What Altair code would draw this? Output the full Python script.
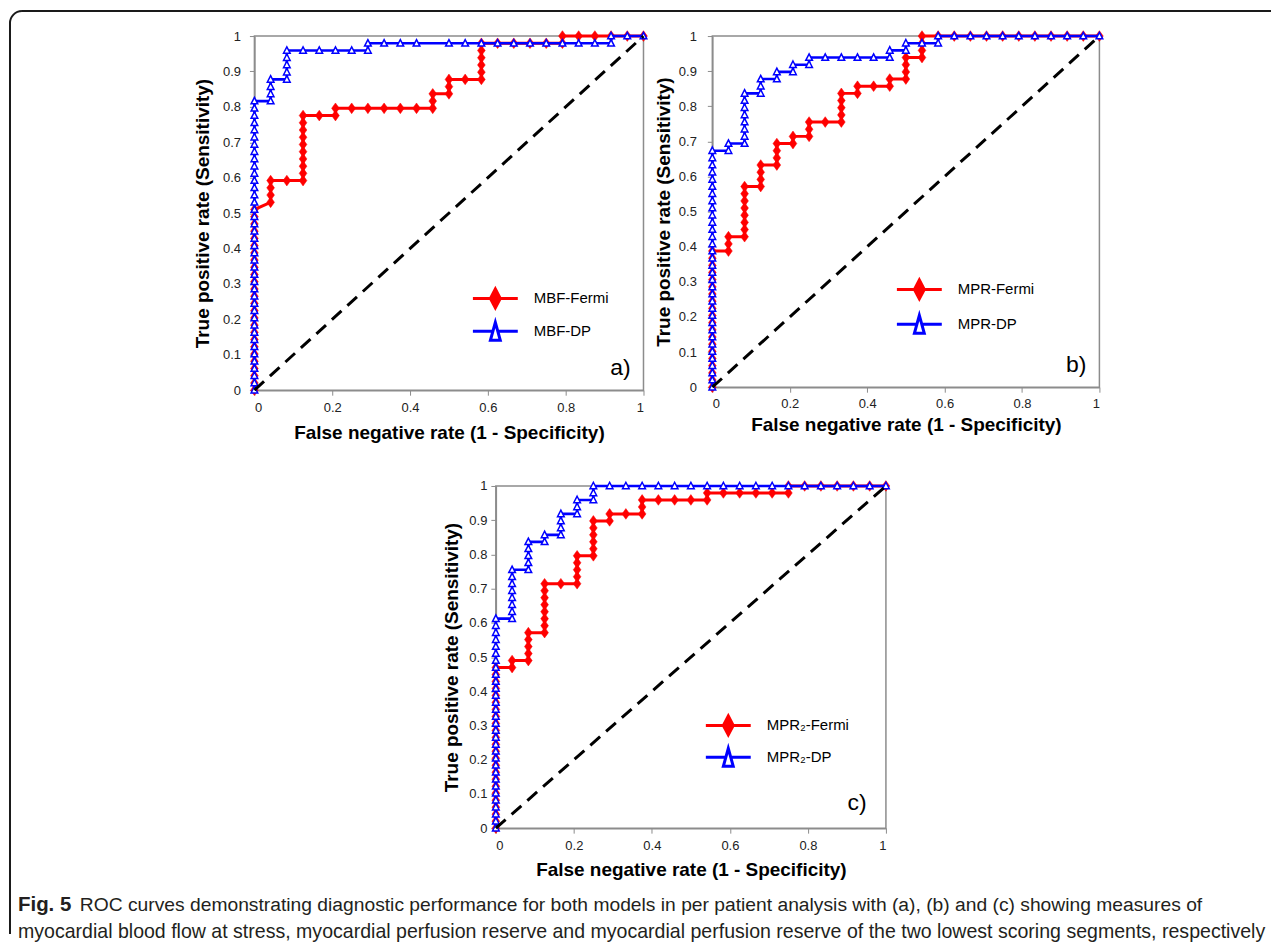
import altair as alt
import pandas as pd

# ---------------- data (counts) ----------------
N_NEG = 24   # x advances in steps of 1/24
N_POS = 49   # y advances in steps of 1/49

# Panel a
A_FERMI_FP = [0, 0, 0, 0, 0, 0, 0, 0, 0, 0, 0, 0, 0, 0, 0, 0, 0, 0, 0, 0, 0, 0, 0, 0, 0, 0,
              1, 1, 1, 1, 2, 3, 3, 3, 3, 3, 3, 3, 3, 3, 3, 4, 5, 5,
              6, 7, 8, 9, 10, 11, 11, 11, 12, 12, 12, 13, 14,
              14, 14, 14, 14, 14, 15, 16, 17, 18, 19, 19, 20, 21, 22, 23, 24]
A_FERMI_TP = [0, 1, 2, 3, 4, 5, 6, 7, 8, 9, 10, 11, 12, 13, 14, 15, 16, 17, 18, 19, 20, 21, 22, 23, 24, 25,
              26, 27, 28, 29, 29, 29, 30, 31, 32, 33, 34, 35, 36, 37, 38, 38, 38, 39,
              39, 39, 39, 39, 39, 39, 40, 41, 41, 42, 43, 43, 43,
              44, 45, 46, 47, 48, 48, 48, 48, 48, 48, 49, 49, 49, 49, 49, 49]
A_DP_FP = [0, 0, 0, 0, 0, 0, 0, 0, 0, 0, 0, 0, 0, 0, 0, 0, 0, 0, 0, 0,
           0, 0, 0, 0, 0, 0, 0, 0, 0, 0, 0, 0, 0, 0, 0, 0, 0, 0, 0, 0, 0,
           1, 1, 1, 1, 2, 2, 2, 2, 2, 3, 4, 5, 6, 7, 7,
           8, 9, 10, 12, 13, 14, 15, 16, 17, 18, 19, 20, 21, 22, 22, 23, 24]
A_DP_TP = [0, 1, 2, 3, 4, 5, 6, 7, 8, 9, 10, 11, 12, 13, 14, 15, 16, 17, 18, 19,
           20, 21, 22, 23, 24, 25, 26, 27, 28, 29, 30, 31, 32, 33, 34, 35, 36, 37, 38, 39, 40,
           40, 41, 42, 43, 43, 44, 45, 46, 47, 47, 47, 47, 47, 47, 48,
           48, 48, 48, 48, 48, 48, 48, 48, 48, 48, 48, 48, 48, 48, 49, 49, 49]

# Panel b
B_FERMI_FP = [0, 0, 0, 0, 0, 0, 0, 0, 0, 0, 0, 0, 0, 0, 0, 0, 0, 0, 0, 0,
              1, 1, 1, 2, 2, 2, 2, 2, 2, 2, 2, 3, 3, 3, 3, 4, 4, 4, 4, 5, 5,
              6, 6, 6, 7, 8, 8, 8, 8, 8, 9, 9, 10, 11, 11,
              12, 12, 12, 12, 13, 13, 13, 13,
              14, 15, 16, 17, 18, 19, 20, 21, 22, 23, 24]
B_FERMI_TP = [0, 1, 2, 3, 4, 5, 6, 7, 8, 9, 10, 11, 12, 13, 14, 15, 16, 17, 18, 19,
              19, 20, 21, 21, 22, 23, 24, 25, 26, 27, 28, 28, 29, 30, 31, 31, 32, 33, 34, 34, 35,
              35, 36, 37, 37, 37, 38, 39, 40, 41, 41, 42, 42, 42, 43,
              43, 44, 45, 46, 46, 47, 48, 49,
              49, 49, 49, 49, 49, 49, 49, 49, 49, 49, 49]
B_DP_FP = [0, 0, 0, 0, 0, 0, 0, 0, 0, 0, 0, 0, 0, 0, 0, 0, 0,
           0, 0, 0, 0, 0, 0, 0, 0, 0, 0, 0, 0, 0, 0, 0, 0, 0,
           1, 1, 2, 2, 2, 2, 2, 2, 2, 2, 3, 3, 3, 4, 4, 5, 5, 6, 6,
           7, 8, 9, 10, 11, 11, 12, 12, 13, 14, 14,
           15, 16, 17, 18, 19, 20, 21, 22, 23, 24]
B_DP_TP = [0, 1, 2, 3, 4, 5, 6, 7, 8, 9, 10, 11, 12, 13, 14, 15, 16,
           17, 18, 19, 20, 21, 22, 23, 24, 25, 26, 27, 28, 29, 30, 31, 32, 33,
           33, 34, 34, 35, 36, 37, 38, 39, 40, 41, 41, 42, 43, 43, 44, 44, 45, 45, 46,
           46, 46, 46, 46, 46, 47, 47, 48, 48, 48, 49,
           49, 49, 49, 49, 49, 49, 49, 49, 49, 49]

# Panel c
C_FERMI_FP = [0, 0, 0, 0, 0, 0, 0, 0, 0, 0, 0, 0, 0, 0, 0, 0, 0, 0, 0, 0, 0, 0, 0, 0,
              1, 1, 2, 2, 2, 2, 2, 3, 3, 3, 3, 3, 3, 3, 3, 4,
              5, 5, 5, 5, 5, 6, 6, 6, 6, 6, 6, 7, 7, 8, 9, 9, 9,
              10, 11, 12, 13, 13, 14, 15, 16, 17, 18, 18,
              19, 20, 21, 22, 23, 24]
C_FERMI_TP = [0, 1, 2, 3, 4, 5, 6, 7, 8, 9, 10, 11, 12, 13, 14, 15, 16, 17, 18, 19, 20, 21, 22, 23,
              23, 24, 24, 25, 26, 27, 28, 28, 29, 30, 31, 32, 33, 34, 35, 35,
              35, 36, 37, 38, 39, 39, 40, 41, 42, 43, 44, 44, 45, 45, 45, 46, 47,
              47, 47, 47, 47, 48, 48, 48, 48, 48, 48, 49,
              49, 49, 49, 49, 49, 49]
C_DP_FP = [0, 0, 0, 0, 0, 0, 0, 0, 0, 0, 0, 0, 0, 0, 0, 0,
           0, 0, 0, 0, 0, 0, 0, 0, 0, 0, 0, 0, 0, 0, 0,
           1, 1, 1, 1, 1, 1, 1, 1, 2, 2, 2, 2, 2, 3, 3, 4, 4, 4, 4,
           5, 5, 5, 6, 6, 6,
           7, 8, 9, 10, 11, 12, 13, 14, 15, 16, 17, 18, 19, 20, 21, 22, 23, 24]
C_DP_TP = [0, 1, 2, 3, 4, 5, 6, 7, 8, 9, 10, 11, 12, 13, 14, 15,
           16, 17, 18, 19, 20, 21, 22, 23, 24, 25, 26, 27, 28, 29, 30,
           30, 31, 32, 33, 34, 35, 36, 37, 37, 38, 39, 40, 41, 41, 42, 42, 43, 44, 45,
           45, 46, 47, 47, 48, 49,
           49, 49, 49, 49, 49, 49, 49, 49, 49, 49, 49, 49, 49, 49, 49, 49, 49, 49]

SERIES_A = ["MBF-Fermi", "MBF-DP"]
SERIES_B = ["MPR-Fermi", "MPR-DP"]
SERIES_C = ["MPR\u2082-Fermi", "MPR\u2082-DP"]
PANEL_LABELS = ["a)", "b)", "c)"]

X_TICKS = [0, 0.2, 0.4, 0.6, 0.8, 1]
Y_TICKS = [0, 0.1, 0.2, 0.3, 0.4, 0.5, 0.6, 0.7, 0.8, 0.9, 1]
X_TITLE = "False negative rate (1 - Specificity)"
Y_TITLE = "True positive rate (Sensitivity)"
DIAG_X = [0, 1]
DIAG_Y = [0, 1]

CAPTION_BOLD = "Fig. 5"
CAPTION_1 = ("ROC curves demonstrating diagnostic performance for both models in per patient "
             "analysis with (a), (b) and (c) showing measures of")
CAPTION_2 = ("myocardial blood flow at stress, myocardial perfusion reserve and myocardial "
             "perfusion reserve of the two lowest scoring segments, respectively")

# ---------------- styling ----------------
FONT = "Liberation Sans"
RED = "#ff0000"
BLUE = "#0000ff"
GREY = "#8c8c8c"
FRAME = "#1a1a1a"
DIAMOND = "M0,-1L0.72,0L0,1L-0.72,0Z"
TRIANGLE = "M0,-1L0.9,0.75L-0.9,0.75Z"
LEG_FERMI = "M-1.5,0L1.5,0M0,-0.63L0.33,0L0,0.63L-0.33,0Z"
LEG_DP = "M-1.5,0L-0.17,0M0.17,0L1.5,0M0,-0.6L0.33,0.6L-0.33,0.6Z"


def series_frame(name, fps, tps):
    return pd.DataFrame({
        "series": name,
        "fpr": [f / N_NEG for f in fps],
        "tpr": [t / N_POS for t in tps],
        "i": list(range(len(fps))),
    })


def panel(names, fermi, dp, label, w, h, xlab_pad, xtitle_pad, ylab_pad, ytitle_pad,
          label_pos, leg_x, leg_y_f, leg_y_d, shift=0, extra=()):
    df_f = series_frame(names[0], *fermi)
    df_d = series_frame(names[1], *dp)
    xscale = alt.Scale(domain=[0, 1], nice=False, zero=False)
    if shift:
        xscale = alt.Scale(domain=[0, 1], nice=False, zero=False, range=[shift, shift + w])
    x = alt.X("fpr:Q", scale=xscale,
              axis=alt.Axis(values=X_TICKS, format="~g", title=X_TITLE, grid=False,
                            tickSize=5, tickColor=GREY, domainColor=GREY, domainWidth=1.5,
                            labelFont=FONT, labelFontSize=13, labelColor="#222",
                            labelPadding=xlab_pad, titleFont=FONT, titleFontSize=19,
                            titleFontWeight="bold", titleColor="black",
                            titlePadding=xtitle_pad))
    y_axis = dict(values=Y_TICKS, format="~g", title=Y_TITLE, grid=False,
                  tickSize=5, tickColor=GREY, domainColor=GREY, domainWidth=1.5,
                  labelFont=FONT, labelFontSize=13, labelColor="#222",
                  labelPadding=ylab_pad, titleFont=FONT, titleFontSize=19,
                  titleFontWeight="bold", titleColor="black", titlePadding=ytitle_pad)
    if shift:
        y_axis["offset"] = -shift
    y = alt.Y("tpr:Q", scale=alt.Scale(domain=[0, 1], nice=False, zero=False),
              axis=alt.Axis(**y_axis))

    border = alt.Chart(pd.DataFrame({"fpr": [0], "fpr2": [1], "tpr": [0], "tpr2": [1]})).mark_rect(
        fillOpacity=0, stroke=GREY, strokeWidth=1.5).encode(x=x, x2="fpr2:Q", y=y, y2="tpr2:Q")
    line_f = alt.Chart(df_f).mark_line(color=RED, strokeWidth=3).encode(x=x, y=y, order="i:Q")
    pts_f = alt.Chart(df_f).mark_point(shape=DIAMOND, size=115, filled=True, fill=RED,
                                       stroke=RED, strokeWidth=0.5, opacity=1).encode(x=x, y=y)
    line_d = alt.Chart(df_d).mark_line(color=BLUE, strokeWidth=2.6).encode(x=x, y=y, order="i:Q")
    pts_d = alt.Chart(df_d).mark_point(shape=TRIANGLE, size=55, filled=True, fill="white",
                                       stroke=BLUE, strokeWidth=1.5, opacity=1).encode(x=x, y=y)
    diag = alt.Chart(pd.DataFrame({"fpr": DIAG_X, "tpr": DIAG_Y})).mark_line(
        color="black", strokeWidth=3, strokeDash=[13, 8]).encode(x=x, y=y)
    lab = alt.Chart(pd.DataFrame({"fpr": [label_pos[0]], "tpr": [label_pos[1]],
                                  "label": [label]})).mark_text(
        font=FONT, fontSize=23, align="center", baseline="middle", color="black"
    ).encode(x=x, y=y, text="label:N")

    leg_common = dict(title=None, orient="none", legendX=leg_x + shift, symbolSize=900,
                      symbolStrokeWidth=3, symbolOpacity=1, labelFont=FONT,
                      labelFontSize=15, labelColor="black", labelOffset=22, padding=0)
    leg_f = alt.Chart(df_f.head(1)).mark_point(opacity=0, filled=True, stroke=RED,
                                               strokeWidth=3).encode(
        x=x, y=y,
        fill=alt.Fill("series:N", scale=alt.Scale(domain=[names[0]], range=[RED]),
                      legend=alt.Legend(legendY=leg_y_f, symbolType=LEG_FERMI,
                                        symbolStrokeColor=RED, **leg_common)))
    leg_d = alt.Chart(df_d.head(1)).mark_point(opacity=0, filled=True, fill="white",
                                               strokeWidth=3).encode(
        x=x, y=y,
        stroke=alt.Stroke("series:N", scale=alt.Scale(domain=[names[1]], range=[BLUE]),
                          legend=alt.Legend(legendY=leg_y_d, symbolType=LEG_DP,
                                            symbolFillColor="white", **leg_common)))
    return alt.layer(border, line_f, pts_f, line_d, pts_d, diag, lab, leg_f, leg_d,
                     *extra).properties(width=w, height=h)


# frame and caption, placed in pixels relative to panel c's view origin
one = pd.DataFrame({"k": [0]})
top_rule = alt.Chart(one).mark_rule(color=FRAME, strokeWidth=2).encode(
    x=alt.value(-233), x2=alt.value(1019), y=alt.value(-476))
left_rule = alt.Chart(one).mark_rule(color=FRAME, strokeWidth=2).encode(
    x=alt.value(-245), y=alt.value(-464), y2=alt.value(449))
corner = alt.Chart(one).mark_arc(color=FRAME, innerRadius=11, outerRadius=13,
                                 theta=4.712389, theta2=6.283185).encode(
    x=alt.value(-233), y=alt.value(-464))
cap_bold = alt.Chart(one).mark_text(font=FONT, fontSize=20.5, fontWeight="bold",
                                    align="left", baseline="middle", color="#231f20").encode(
    x=alt.value(-237), y=alt.value(420), text=alt.value(CAPTION_BOLD))
cap_1 = alt.Chart(one).mark_text(font=FONT, fontSize=19.3, align="left",
                                 baseline="middle", color="#231f20").encode(
    x=alt.value(-175), y=alt.value(420), text=alt.value(CAPTION_1))
cap_2 = alt.Chart(one).mark_text(font=FONT, fontSize=19.6, align="left",
                                 baseline="middle", color="#231f20").encode(
    x=alt.value(-237), y=alt.value(447), text=alt.value(CAPTION_2))

A = panel(SERIES_A, (A_FERMI_FP, A_FERMI_TP), (A_DP_FP, A_DP_TP), PANEL_LABELS[0],
          390, 355, 6, 9, 9, 10, (0.941, 0.062), 225, 246.5, 279.5)
B = panel(SERIES_B, (B_FERMI_FP, B_FERMI_TP), (B_DP_FP, B_DP_TP), PANEL_LABELS[1],
          388, 352, 5, 5, 11, 5, (0.94, 0.062), 191, 237.5, 272.5)
C = panel(SERIES_C, (C_FERMI_FP, C_FERMI_TP), (C_DP_FP, C_DP_TP), PANEL_LABELS[2],
          391, 343, 6, 8, 4, 7, (0.926, 0.073), 216.5, 223.5, 255.5, shift=242,
          extra=(top_rule, left_rule, corner, cap_bold, cap_1, cap_2))

chart = alt.concat(
    A, B, C, columns=2, align="each", bounds="flush",
    spacing={"row": 96, "column": 68},
).resolve_scale(
    x="independent", y="independent", fill="independent", stroke="independent"
).configure_view(stroke="transparent").properties(padding=0, background="white")

chart.save("out.html", embed_options={"renderer": "svg", "actions": False})
